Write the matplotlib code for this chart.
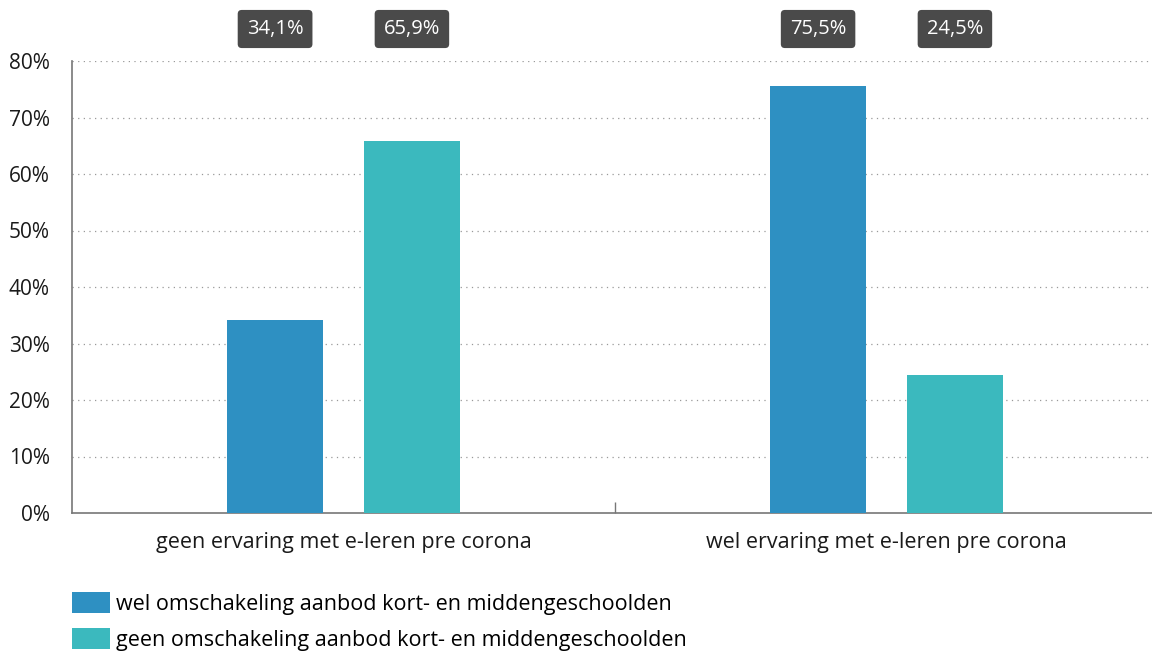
import matplotlib
matplotlib.use("Agg")
import matplotlib.pyplot as plt
import matplotlib.transforms as mtransforms
from matplotlib.patches import Patch
import numpy as np

categories = ["geen ervaring met e-leren pre corona", "wel ervaring met e-leren pre corona"]
series_names = ["wel omschakeling aanbod kort- en middengeschoolden",
                "geen omschakeling aanbod kort- en middengeschoolden"]
wel_values = [34.1, 75.5]
geen_values = [65.9, 24.5]
yticks = [0, 10, 20, 30, 40, 50, 60, 70, 80]

colors = ["#2E90C2", "#3BB9BE"]
plt.rcParams['font.family'] = ['Open Sans', 'DejaVu Sans']

fig = plt.figure(figsize=(11.52, 6.52), dpi=100)
ax = fig.add_axes([72/1152, 1-513/652, (1158-72)/1152, (513-61)/652])

x = np.arange(len(categories))
w = 0.176
off = 0.126
series = [wel_values, geen_values]
for i, vals in enumerate(series):
    xs = x + (-off if i == 0 else off)
    ax.bar(xs, vals, width=w, color=colors[i], zorder=3)

ax.set_xlim(-0.5, 1.5)
ax.set_ylim(0, 80)
ax.set_yticks(yticks)
ax.set_yticklabels([f"{t}%" for t in yticks], fontsize=15, color="#1a1a1a")
ax.set_xticks(x)
ax.set_xticklabels(categories, fontsize=15.5, color="#1a1a1a")
ax.tick_params(axis='x', length=0, pad=14)
ax.tick_params(axis='y', length=0, pad=16)
ax.set_xticks([0.5], minor=True)
ax.tick_params(axis='x', which='minor', direction='in', length=8, color="#777777", width=1)
for yv in yticks[1:]:
    ax.axhline(yv, color="#999999", linestyle=(0, (1, 3.5)), linewidth=0.9, zorder=1)
for s in ["top", "right"]:
    ax.spines[s].set_visible(False)
for s in ["left", "bottom"]:
    ax.spines[s].set_color("#777777")
    ax.spines[s].set_linewidth(1.2)

trans = mtransforms.blended_transform_factory(ax.transData, fig.transFigure)
for i, vals in enumerate(series):
    for j, v in enumerate(vals):
        xs = x[j] + (-off if i == 0 else off)
        ax.text(xs, 1-29/652, f"{v:.1f}%".replace(".", ","), transform=trans,
                ha="center", va="center", fontsize=14.5, color="white",
                bbox=dict(boxstyle="round,pad=0.45,rounding_size=0.2", fc="#4A4A4A", ec="none"),
                clip_on=False)

handles = [Patch(facecolor=c, edgecolor="none") for c in colors]
fig.legend(handles, series_names, loc="upper left", bbox_to_anchor=(72/1152, 1-592/652),
           frameon=False, fontsize=15.5, handlelength=1.75, handleheight=1.1,
           handletextpad=0.3, labelspacing=0.62, borderaxespad=0, borderpad=0)

fig.savefig("out.png", dpi=100)
